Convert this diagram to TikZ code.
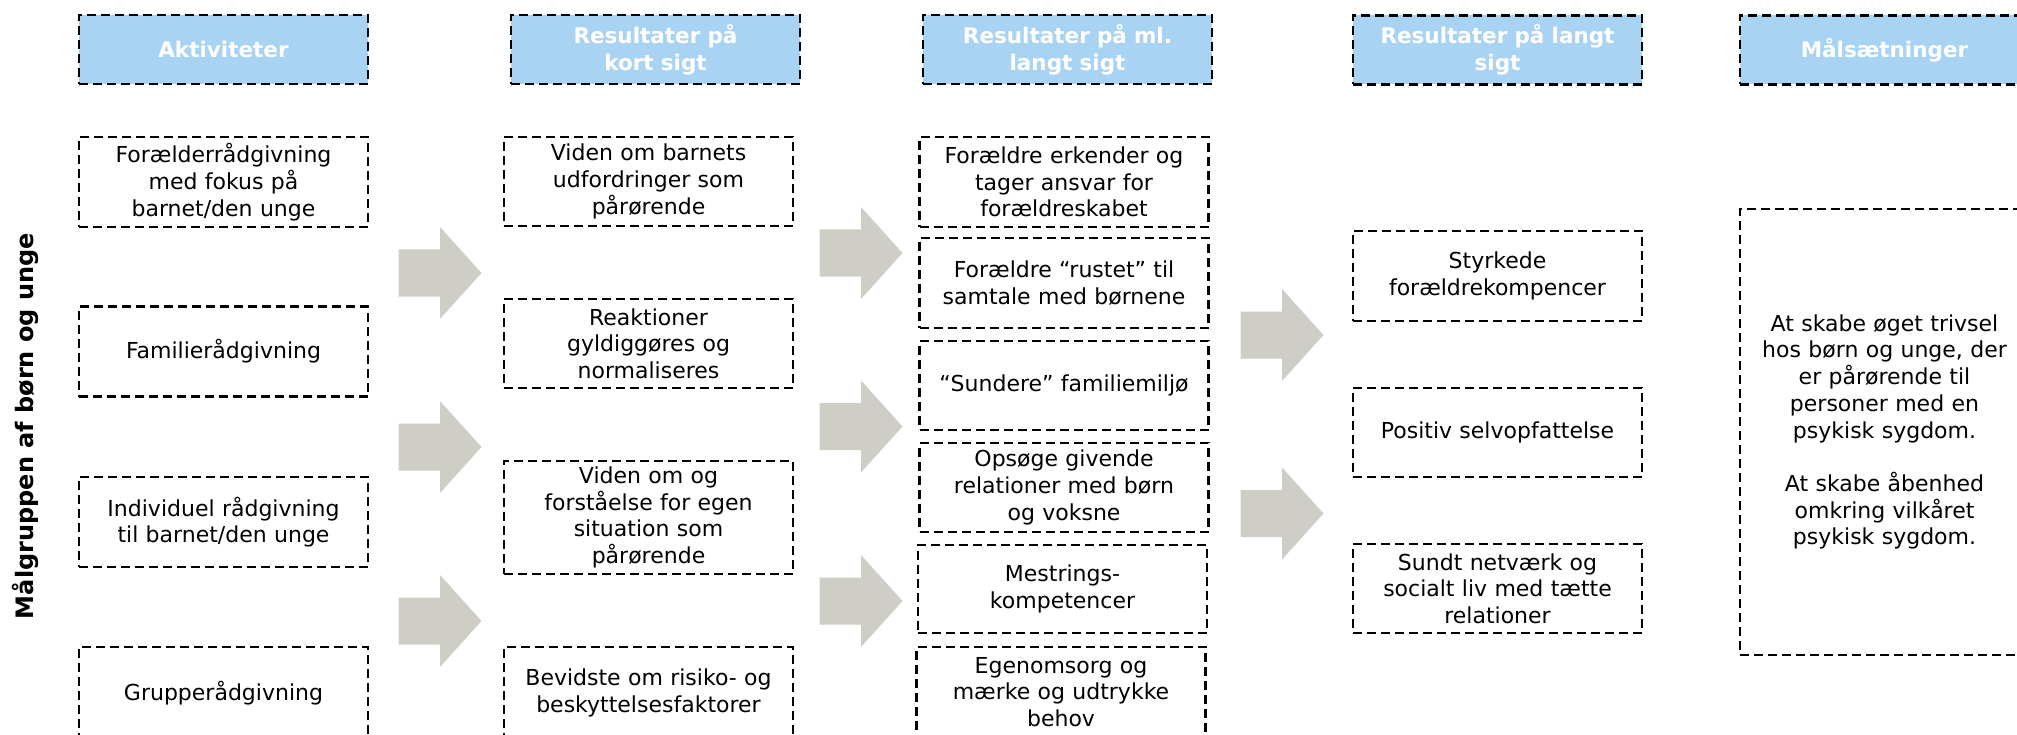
\documentclass[tikz,border=0pt]{standalone}
\usepackage{fontspec}
\setmainfont{DejaVu Sans}
\definecolor{headblue}{RGB}{169,211,243}
\definecolor{arrowgray}{RGB}{206,206,198}
\tikzset{
  pics/flowarrow/.style={code={
    \fill[arrowgray] (-41.5,-23.5) -- (0,-23.5) -- (0,-46) -- (41.5,0)
      -- (0,46) -- (0,23.5) -- (-41.5,23.5) -- cycle;}}
}
\begin{document}
\begin{tikzpicture}[x=1pt,y=-1pt,
  box/.style={draw=black, line width=2.2pt, dash pattern=on 9pt off 5pt,
    minimum width=289pt, minimum height=#1, inner sep=0pt,
    text width=285pt, align=center, font=\fontsize{22}{26.7}\selectfont},
  box/.default=90pt,
  headbox/.style={box=69pt, fill=headblue, text=white,
    font=\bfseries\fontsize{21.5}{26.7}\selectfont},
  sidelabel/.style={rotate=90, anchor=base, inner sep=0pt,
    font=\bfseries\fontsize{24}{28}\selectfont}]
\useasboundingbox (0,0) rectangle (2017,735);
\clip (0,0) rectangle (2017,735);

% column headers
\node[headbox] (h1) at (223.5,49.5) {Aktiviteter};
\node[headbox] (h2) at (655.5,49.5) {Resultater på\\kort sigt};
\node[headbox] (h3) at (1067.5,49.5) {Resultater på ml.\\langt sigt};
\node[headbox] (h4) at (1497.5,50) {Resultater på langt\\sigt};
\node[headbox] (h5) at (1884.5,50) {Målsætninger};

% target group label
\node[sidelabel] (tg) at (33,426) {Målgruppen af børn og unge};

% activities
\node[box] (a1) at (223.5,182) {Forælderrådgivning\\med fokus på\\barnet/den unge};
\node[box] (a2) at (223.5,351.5) {Familierådgivning};
\node[box] (a3) at (223.5,522) {Individuel rådgivning\\til barnet/den unge};
\node[box=92pt] (a4) at (223.5,693) {Grupperådgivning};

% short-term results
\node[box=89pt] (k1) at (648.5,181.5) {Viden om barnets\\udfordringer som\\pårørende};
\node[box=89pt] (k2) at (648.5,343.5) {Reaktioner\\gyldiggøres og\\normaliseres};
\node[box=113pt] (k3) at (648.5,517.5) {Viden om og\\forståelse for egen\\situation som\\pårørende};
\node[box=92pt] (k4) at (648.5,693) {Bevidste om risiko- og\\beskyttelsesfaktorer};

% medium-term results
\node[box] (m1) at (1064,182) {Forældre erkender og\\tager ansvar for\\forældreskabet};
\node[box] (m2) at (1064,283) {Forældre “rustet” til\\samtale med børnene};
\node[box=89pt] (m3) at (1064,385.5) {“Sundere” familiemiljø};
\node[box=89pt] (m4) at (1064,487.5) {Opsøge givende\\relationer med børn\\og voksne};
\node[box=88pt] (m5) at (1062.5,589) {Mestrings-\\kompetencer};
\node[box] (m6) at (1061,692) {Egenomsorg og\\mærke og udtrykke\\behov};

% long-term results
\node[box] (l1) at (1497.5,276) {Styrkede\\forældrekompencer};
\node[box=89pt] (l2) at (1497.5,432.5) {Positiv selvopfattelse};
\node[box=89pt] (l3) at (1497.5,588.5) {Sundt netværk og\\socialt liv med tætte\\relationer};

% goals
\node[box=446pt] (g1) at (1884.5,432) {At skabe øget trivsel\\hos børn og unge, der\\er pårørende til\\personer med en\\psykisk sygdom.\\[26.7pt]At skabe åbenhed\\omkring vilkåret\\psykisk sygdom.};

% block arrows between the columns
\pic at (440,273) {flowarrow};
\pic at (440,447) {flowarrow};
\pic at (440,621) {flowarrow};
\pic at (861,253) {flowarrow};
\pic at (861,426.5) {flowarrow};
\pic at (861,601) {flowarrow};
\pic at (1282,335) {flowarrow};
\pic at (1282,513.5) {flowarrow};
\end{tikzpicture}
\end{document}
